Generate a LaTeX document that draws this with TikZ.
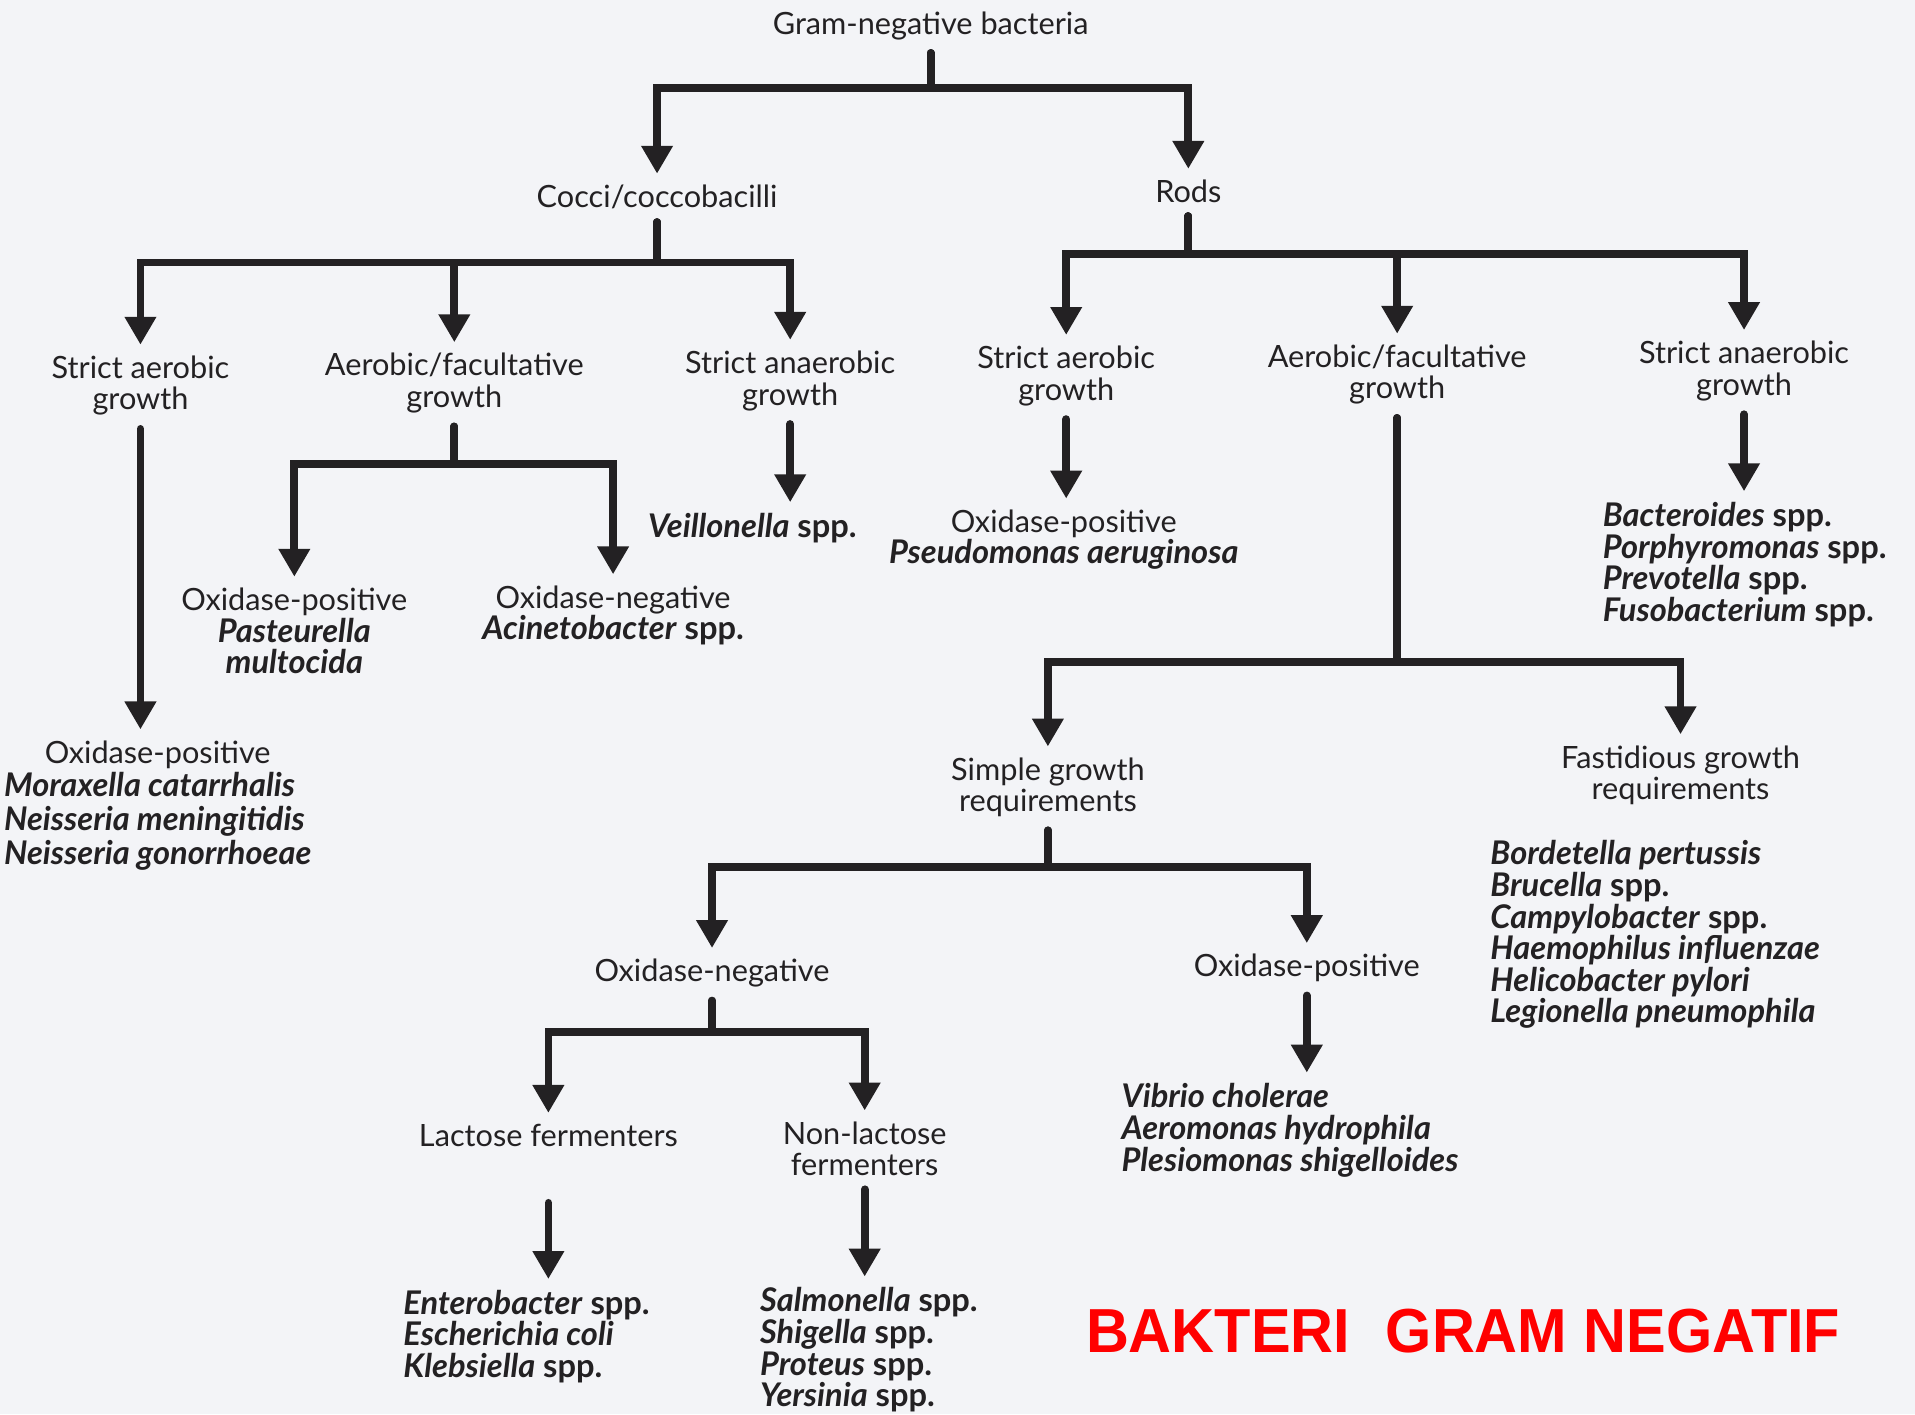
\documentclass[tikz,border=0pt]{standalone}
\usepackage{fontspec}
\setmainfont{Lato}
\newfontfamily\bannerfont{Liberation Sans}
\usetikzlibrary{arrows.meta}
\definecolor{ink}{RGB}{35,33,35}
\definecolor{paper}{RGB}{243,244,247}
\definecolor{banner}{RGB}{255,0,0}

\begin{document}
\begin{tikzpicture}[
    x=0.02cm, y=-0.02cm,
    every node/.style={text=ink, font=\fontsize{14.3}{14.7}\selectfont, inner sep=0pt},
    taxon/.style={align=center, anchor=north},
    specieslist/.style={align=left, anchor=north west, font=\fontsize{15.2}{14.7}\selectfont\bfseries},
    branch/.style={draw=ink, line width=3.6pt, line cap=round, -{Triangle[width=14pt,length=13pt]}, shorten <=6pt, shorten >=5pt},
    title/.style={text=banner, font=\bannerfont\bfseries\fontsize{29}{30}\selectfont}
]

\fill[paper] (0,0) rectangle (1568,1158);
\useasboundingbox (0,0) rectangle (1568,1158);

% bar levels
\coordinate (bar0) at (0,72);
\coordinate (bar1) at (0,215);
\coordinate (bar2) at (0,380);
\coordinate (bar3) at (0,208);
\coordinate (bar4) at (0,542);
\coordinate (bar5) at (0,710);
\coordinate (bar6) at (0,845);

\node[taxon] (gram) at (762,9) {Gram-negative bacteria};
\node[taxon] (cocci) at (538,151) {Cocci/coccobacilli};
\node[taxon] (rods) at (973,147) {Rods};

% cocci/coccobacilli
\node[taxon] (c-aer) at (115,291) {Strict aerobic\\growth};
\node[taxon] (c-fac) at (372,289) {Aerobic/facultative\\growth};
\node[taxon] (c-ana) at (647,287) {Strict anaerobic\\growth};

\node[specieslist] (mor) at (3,606) {\begin{tabular}{@{}l@{}}
\multicolumn{1}{@{}c@{}}{\fontsize{14.3}{14.7}\selectfont\mdseries Oxidase-positive}\\
\textit{Moraxella catarrhalis}\\
\textit{Neisseria meningitidis}\\
\textit{Neisseria gonorrhoeae}
\end{tabular}};
\node[taxon] (c-fac-pos) at (241,481) {Oxidase-positive\\\textbf{\textit{\fontsize{15.2}{14.7}\selectfont Pasteurella}}\\\textbf{\textit{\fontsize{15.2}{14.7}\selectfont multocida}}};
\node[taxon] (c-fac-neg) at (502,479) {Oxidase-negative\\\textbf{\fontsize{15.2}{14.7}\selectfont\textit{Acinetobacter} spp.}};
\node[taxon] (veil) at (616,420) {\textbf{\fontsize{15.2}{14.7}\selectfont\textit{Veillonella} spp.}};

% rods
\node[taxon] (r-aer) at (873,283) {Strict aerobic\\growth};
\node[taxon] (r-fac) at (1144,282) {Aerobic/facultative\\growth};
\node[taxon] (r-ana) at (1428,279) {Strict anaerobic\\growth};

\node[taxon] (pse) at (871,417) {Oxidase-positive\\\textbf{\textit{\fontsize{15.2}{14.7}\selectfont Pseudomonas aeruginosa}}};
\node[specieslist] (bac) at (1312,411) {\textit{Bacteroides} spp.\\\textit{Porphyromonas} spp.\\\textit{Prevotella} spp.\\\textit{Fusobacterium} spp.};

\node[taxon] (simple) at (858,620) {Simple growth\\requirements};
\node[taxon] (fast) at (1376,610) {Fastidious growth\\requirements};
\node[specieslist] (fast-sp) at (1220,688) {\textit{Bordetella pertussis}\\\textit{Brucella} spp.\\\textit{Campylobacter} spp.\\\textit{Haemophilus influenzae}\\\textit{Helicobacter pylori}\\\textit{Legionella pneumophila}};

\node[taxon] (oxneg) at (583,785) {Oxidase-negative};
\node[taxon] (oxpos) at (1070,781) {Oxidase-positive};
\node[specieslist] (vib) at (918,887) {\textit{Vibrio cholerae}\\\textit{Aeromonas hydrophila}\\\textit{Plesiomonas shigelloides}};

\node[taxon] (lact) at (449,920) {Lactose fermenters};
\node[taxon] (nonlact) at (708,918) {Non-lactose\\fermenters};
\node[specieslist] (ent) at (330,1056) {\textit{Enterobacter} spp.\\\textit{Escherichia coli}\\\textit{Klebsiella} spp.};
\node[specieslist] (sal) at (622,1054) {\textit{Salmonella} spp.\\\textit{Shigella} spp.\\\textit{Proteus} spp.\\\textit{Yersinia} spp.};

\node[title] (banner) at (1198,1090) {\scalebox{0.955}[1]{BAKTERI\hspace{0.6em}GRAM NEGATIF}};

% Connections
\foreach \from/\to/\bar in {gram/cocci/bar0, gram/rods/bar0,
        cocci/c-aer/bar1, cocci/c-fac/bar1, cocci/c-ana/bar1,
        c-fac/c-fac-pos/bar2, c-fac/c-fac-neg/bar2,
        rods/r-aer/bar3, rods/r-fac/bar3, rods/r-ana/bar3,
        r-fac/simple/bar4, r-fac/fast/bar4,
        simple/oxneg/bar5, simple/oxpos/bar5,
        oxneg/lact/bar6, oxneg/nonlact/bar6}
    \draw[branch] (\from.south) -- (\from.south |- \bar) -| (\to.north);

\foreach \from/\to in {c-aer/mor, c-ana/veil, r-aer/pse, r-ana/bac, oxpos/vib, nonlact/sal}
    \draw[branch] (\from.south) -- (\from.south |- \to.north);

\draw[branch, shorten <=26pt] (lact.south) -- (lact.south |- ent.north);

\end{tikzpicture}
\end{document}
